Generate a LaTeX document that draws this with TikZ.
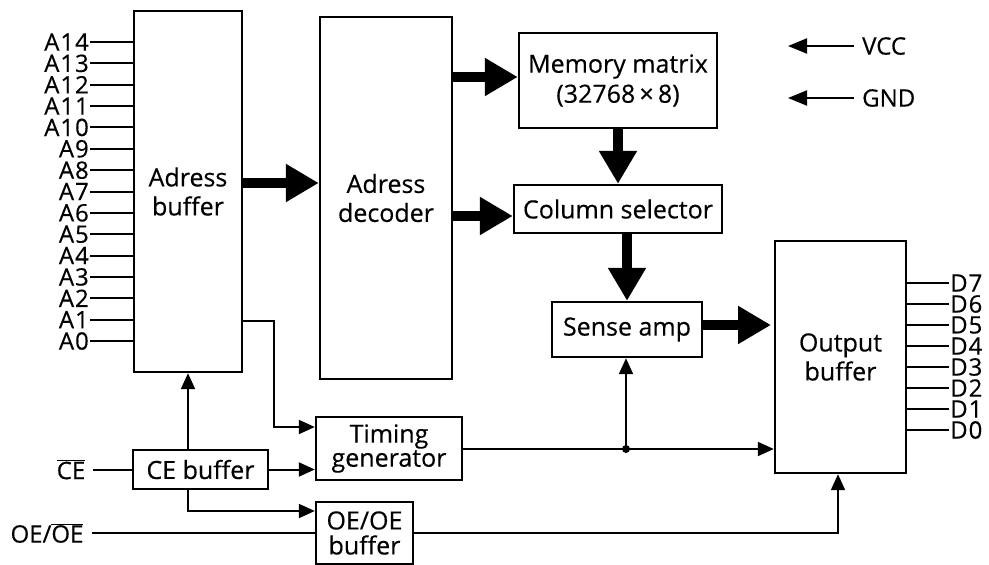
\documentclass[tikz,border=0pt]{standalone}
\usepackage{fontspec}
\setmainfont{Open Sans}[FakeBold=0.4]
\usetikzlibrary{arrows.meta,calc}
\begin{document}
\begin{tikzpicture}[x=1pt,y=-1pt,
  box/.style={draw,line width=2.4pt,inner sep=0pt,align=center,font=\fontsize{25}{29}\selectfont},
  lbl/.style={inner sep=0pt,font=\fontsize{24}{24}\selectfont\addfontfeature{LetterSpace=4}},
  sig/.style={inner sep=1pt,font=\fontsize{24}{24}\selectfont},
  wire/.style={line width=2pt},
  thinarrow/.style={line width=2pt,-{Triangle[length=16pt,width=14pt]}},
  fatarrow/.style={line width=10pt,-{Triangle[length=33pt,width=36pt]}},
  pwrarrow/.style={line width=2pt,-{Triangle[length=19pt,width=15pt]}}
]
\useasboundingbox (0,0) rectangle (989,565);
% blocks
\node[box,minimum width=108pt,minimum height=361pt] (ab) at (188,191.5) {Adress\\buffer};
\node[box,minimum width=132pt,minimum height=362pt] (dec) at (386,198) {Adress\\decoder};
\node[box,minimum width=198pt,minimum height=95pt,font=\fontsize{25}{30}\selectfont] (mm) at (618,80.5) {Memory matrix\\(32768\,×\,8)};
\node[box,minimum width=208pt,minimum height=48pt] (cs) at (618,209) {Column selector};
\node[box,minimum width=150pt,minimum height=55pt] (sa) at (627,329.5) {Sense amp};
\node[box,minimum width=131pt,minimum height=232pt] (ob) at (840.5,357) {Output\\buffer};
\node[box,minimum width=146pt,minimum height=63pt,font=\fontsize{25}{24}\selectfont] (tg) at (389,448.5) {Timing\\generator};
\node[box,minimum width=135pt,minimum height=39pt] (ce) at (200.5,469.5) {CE buffer};
\node[box,minimum width=97pt,minimum height=62pt,font=\fontsize{25}{25}\selectfont] (oe) at (364.5,533) {OE/OE\\buffer};
% address inputs
\foreach \i in {0,...,14} {
  \node[lbl,anchor=east] (A\i) at (89,{341-21.357*\i}) {A\i};
  \draw[wire] ([xshift=1pt]A\i.east) -- (A\i.east -| ab.west);
}
% data outputs
\foreach \i in {0,...,7} {
  \node[lbl,anchor=west] (D\i) at (950,{430-21*\i}) {D\i};
  \draw[wire] ([xshift=-1pt]D\i.west) -- (D\i.west -| ob.east);
}
% power
\node[sig,anchor=west] (vcc) at (861,46) {VCC};
\node[sig,anchor=west] (gnd) at (861,98) {GND};
\coordinate (vccend) at (788,46);
\coordinate (gndend) at (788,98);
\draw[pwrarrow] ([xshift=-7pt]vcc.west) -- (vccend);
\draw[pwrarrow] ([xshift=-7pt]gnd.west) -- (gndend);
% fat data arrows
\coordinate (y183) at (0,183);
\coordinate (y77) at (0,77);
\coordinate (y216) at (0,216);
\coordinate (y325) at (0,325);
\draw[fatarrow] (ab.east |- y183) -- (dec.west |- y183);
\draw[fatarrow] (dec.east |- y77) -- (mm.west |- y77);
\draw[fatarrow] (dec.east |- y216) -- (cs.west |- y216);
\draw[fatarrow] (mm.south) -- (cs.north);
\draw[fatarrow] (cs.south -| sa.north) -- (sa.north);
\coordinate (obtip) at (771,325);
\draw[fatarrow] (sa.east |- y325) -- (obtip);
% control signals
\node[sig,anchor=center] (cebar) at (71,469.5) {$\overline{\mbox{CE}}$};
\node[sig,anchor=center] (oebar) at (47,533) {OE/$\overline{\mbox{OE}}$};
\draw[wire] ([xshift=7pt]cebar.east) -- (ce.west);
\draw[wire] ([xshift=7pt]oebar.east) -- (oe.west);
\draw[thinarrow] (ab.south |- ce.north) -- (ab.south);
\draw[thinarrow] (ce.east) -- (ce.east -| tg.west);
\coordinate (y511) at (0,511);
\draw[thinarrow] (ab.south |- ce.south) -- (ab.south |- y511) -- (oe.west |- y511);
\coordinate (a1out) at (242,321);
\coordinate (a1bend) at (274,321);
\coordinate (y427) at (0,427);
\draw[thinarrow] (a1out) -- (a1bend) -- (a1bend |- y427) -- (tg.west |- y427);
\coordinate (y449) at (0,449);
\coordinate (dot) at (626,449);
\draw[thinarrow] (tg.east |- y449) -- (ob.west |- y449);
\draw[thinarrow] (dot) -- (dot |- sa.south);
\fill (dot) circle (4pt);
\coordinate (oeup) at (838,533);
\draw[thinarrow] (oe.east) -- (oeup) -- (oeup |- ob.south);
\end{tikzpicture}
\end{document}
